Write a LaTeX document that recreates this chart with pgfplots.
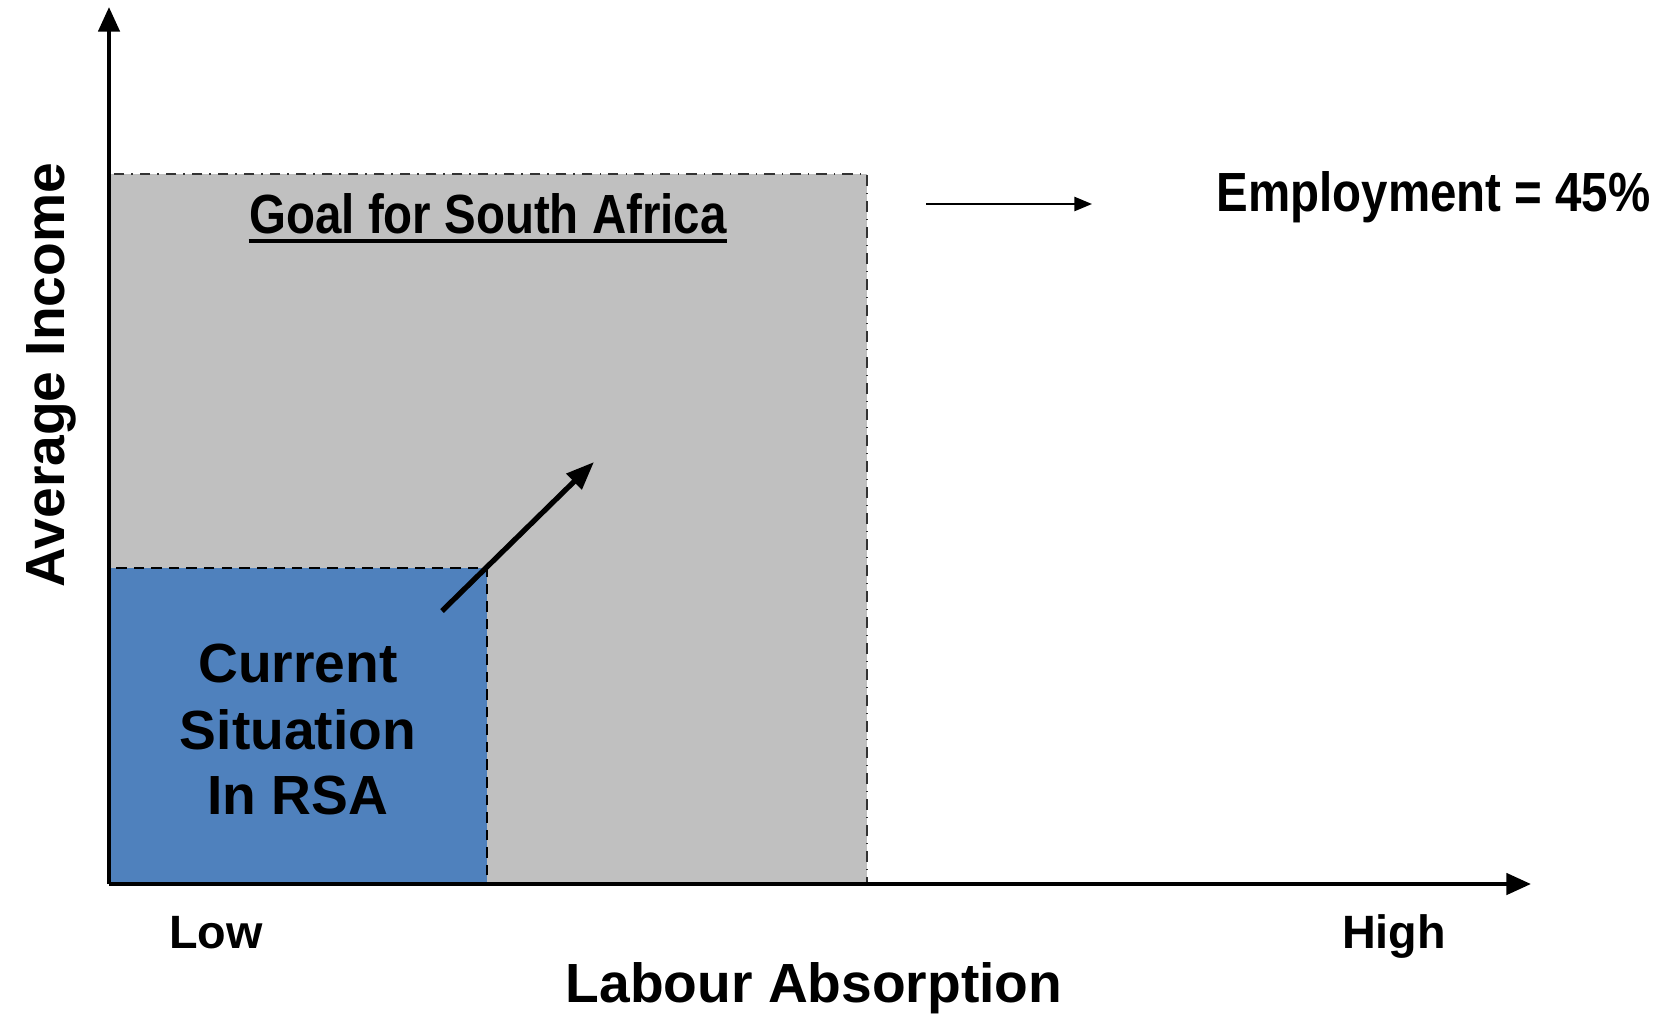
\documentclass[border=0pt]{standalone}
\usepackage{fontspec}
\setmainfont{Liberation Sans}
\newfontfamily\narrowbold[FakeStretch=0.86]{Liberation Sans Bold}
\usepackage{pgfplots}
\pgfplotsset{compat=1.18}
\usetikzlibrary{arrows.meta}
\definecolor{goalgray}{HTML}{C0C0C0}
\definecolor{rsablue}{HTML}{4F81BD}
\tikzset{lbl/.style={inner sep=0pt, font=\bfseries\fontsize{15.7}{18}\selectfont}}

\begin{document}
\begin{tikzpicture}
\begin{axis}[
  scale only axis, width=16.58cm, height=10.15cm,
  xmin=0, xmax=1658, ymin=0, ymax=1015,
  hide axis, clip=false,
]
% goal region
\addplot[fill=goalgray, draw=black!80, line width=0.4pt, dash dot] coordinates
  {(109,131) (867,131) (867,841) (109,841)} -- cycle;
% current situation
\addplot[fill=rsablue, draw=black, line width=0.4pt, densely dashed] coordinates
  {(109,131) (487,131) (487,447) (109,447)} -- cycle;
% movement arrow
\addplot[line width=1.5pt, -{Triangle[length=8pt,width=6pt]}] coordinates
  {(442,404) (594,553)};
% small arrow to employment
\addplot[line width=0.6pt, -{Triangle[length=5pt,width=4pt]}] coordinates
  {(926,811) (1092,811)};
% axes
\addplot[line width=1.2pt, -{Triangle[length=7pt,width=6pt]}] coordinates
  {(109,131) (1531,131)};
\addplot[line width=1.2pt, -{Triangle[length=7pt,width=6pt]}] coordinates
  {(109,131) (109,1008)};

\node[lbl, anchor=base, font=\narrowbold\fontsize{15.7}{18}\selectfont]
  (goal) at (axis cs:488,782) {Goal for South Africa};
\draw[line width=1.1pt] ([yshift=-2.2pt]goal.base west) -- ([yshift=-2.2pt]goal.base east);
\node[lbl, anchor=base west, font=\narrowbold\fontsize{15.7}{18}\selectfont]
  at (axis cs:1216,804) {Employment = 45\%};

\node[lbl, anchor=base] at (axis cs:298,333) {Current};
\node[lbl, anchor=base] at (axis cs:298,266) {Situation};
\node[lbl, anchor=base] at (axis cs:298,201) {In RSA};

\node[lbl, anchor=base, font=\bfseries\fontsize{13.3}{16}\selectfont] at (axis cs:216,67) {Low};
\node[lbl, anchor=base, font=\bfseries\fontsize{13.3}{16}\selectfont] at (axis cs:1394,67) {High};
\node[lbl, anchor=base] at (axis cs:814,13) {Labour Absorption};
\node[lbl, anchor=base, rotate=90] at (axis cs:64,640) {Average Income};
\end{axis}
\pgfresetboundingbox
\path (current axis.south west) rectangle (current axis.north east);
\end{tikzpicture}
\end{document}
